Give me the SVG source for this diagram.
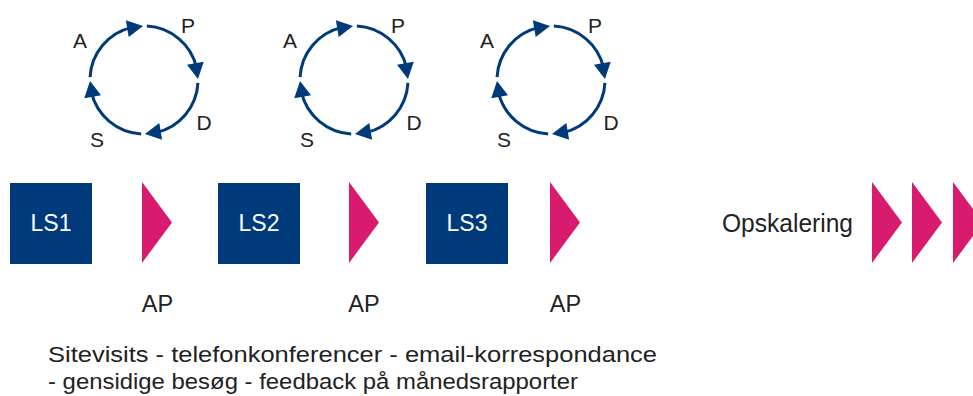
<svg xmlns="http://www.w3.org/2000/svg" xmlns:xlink="http://www.w3.org/1999/xlink" width="973" height="396" viewBox="0 0 973 396">
<style>
.arc{fill:none;stroke:#003a7a;stroke-width:3}
.ah{fill:#003a7a}
.lbl{font-family:"Liberation Sans",Arial,sans-serif;font-size:21px;fill:#222;text-anchor:middle}
.box{fill:#003a7a}
.boxt{font-family:"Liberation Sans",Arial,sans-serif;font-size:23px;fill:#fff;text-anchor:middle}
.tri{fill:#d81b6e}
.ap{font-family:"Liberation Sans",Arial,sans-serif;font-size:23.5px;fill:#222;text-anchor:middle}
.body{font-family:"Liberation Sans",Arial,sans-serif;font-size:22px;fill:#222}
.big{font-size:25px}
</style>
<defs>
<polygon id="ah" points="0,0 -16,-8.5 -16,8.5"/>
<g id="cycle">
<path class="arc" d="M53.93,2.83 A54,54 0 0 1 12.15,52.62"/>
<path class="arc" d="M-2.83,53.93 A54,54 0 0 1 -52.62,12.15"/>
<path class="arc" d="M-53.93,-2.83 A54,54 0 0 1 -12.15,-52.62"/>
<path class="arc" d="M2.83,-53.93 A54,54 0 0 1 52.62,-12.15"/>
<use xlink:href="#ah" class="ah" transform="rotate(89) translate(54 0) rotate(81.5)"/>
<use xlink:href="#ah" class="ah" transform="rotate(179) translate(54 0) rotate(81.5)"/>
<use xlink:href="#ah" class="ah" transform="rotate(269) translate(54 0) rotate(81.5)"/>
<use xlink:href="#ah" class="ah" transform="rotate(359) translate(54 0) rotate(81.5)"/>
<text class="lbl" x="-64" y="-32">A</text>
<text class="lbl" x="44" y="-47">P</text>
<text class="lbl" x="60" y="50">D</text>
<text class="lbl" x="-47" y="67">S</text>
</g>
</defs>
<g id="cycle1"><use xlink:href="#cycle" transform="translate(144 80)"/></g>
<g id="cycle2"><use xlink:href="#cycle" transform="translate(354 80)"/></g>
<g id="cycle3"><use xlink:href="#cycle" transform="translate(551 80)"/></g>
<g id="ls1"><rect class="box" x="10" y="183" width="82" height="81"/><text class="boxt" x="51" y="231">LS1</text></g>
<g id="ls2"><rect class="box" x="218" y="183" width="82" height="81"/><text class="boxt" x="259" y="231">LS2</text></g>
<g id="ls3"><rect class="box" x="426" y="183" width="82" height="81"/><text class="boxt" x="467" y="231">LS3</text></g>
<g id="connectors">
<polygon class="tri" points="142,182 172,222.5 142,263"/>
<polygon class="tri" points="349,182 379,222.5 349,263"/>
<polygon class="tri" points="550,182 580,222.5 550,263"/>
<polygon class="tri" points="872,182 902,222.5 872,263"/>
<polygon class="tri" points="912,182 942,222.5 912,263"/>
<polygon class="tri" points="953,182 983,222.5 953,263"/>
</g>
<g id="ap1"><text class="ap" x="157.5" y="312">AP</text></g>
<g id="ap2"><text class="ap" x="364" y="312">AP</text></g>
<g id="ap3"><text class="ap" x="565.5" y="312">AP</text></g>
<g id="opskalering"><text class="body big" x="722" y="232" textLength="131" lengthAdjust="spacingAndGlyphs">Opskalering</text></g>
<g id="note">
<text class="body" x="48" y="362" textLength="609" lengthAdjust="spacingAndGlyphs">Sitevisits - telefonkonferencer - email-korrespondance</text>
<text class="body" x="48" y="389" textLength="530" lengthAdjust="spacingAndGlyphs">- gensidige besøg - feedback på månedsrapporter</text>
</g>
</svg>
